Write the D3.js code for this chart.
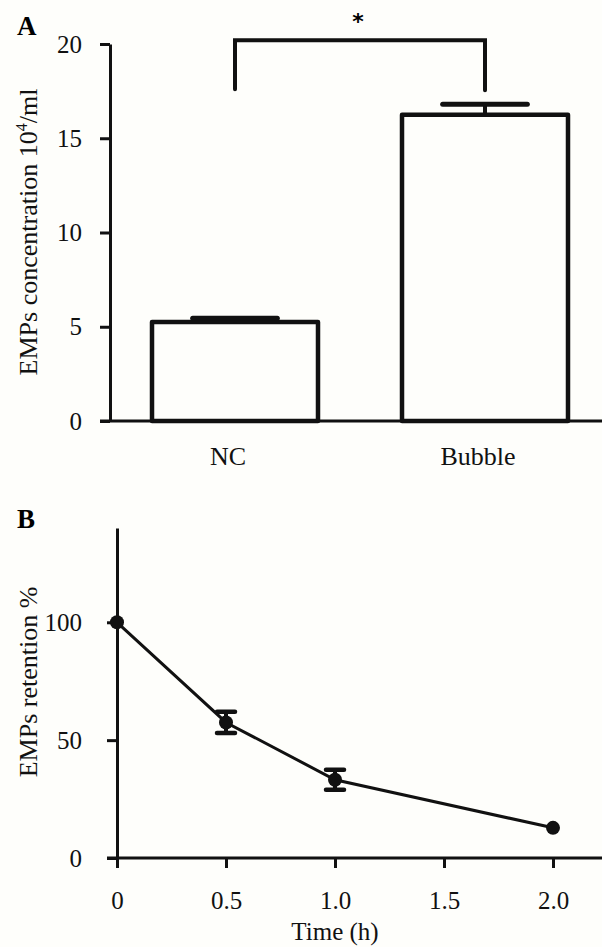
<!DOCTYPE html>
<html>
<head>
<meta charset="utf-8">
<script src="https://cdn.jsdelivr.net/npm/d3@7/dist/d3.min.js"></script>
<style>
    body { margin: 0; background: #fefefb; }
    svg { display: block; font-family: "Liberation Serif", "Times New Roman", serif; }
</style>
</head>
<body>
<div id="chart"></div>
<script>
// panel A data
let groups = ['NC', 'Bubble'];
let concMean = [5.25, 16.25];
let concErr = [0.2, 0.55];
let concTicks = [0, 5, 10, 15, 20];

// panel B data
let timeHours = [0, 0.5, 1.0, 2.0];
let retention = [100, 57.5, 33.2, 12.8];
let retentionErr = [0, 4.5, 4.2, 0];
let timeTicks = [0, 0.5, 1.0, 1.5, 2.0];
let timeTickLabels = ['0', '0.5', '1.0', '1.5', '2.0'];
let retentionTicks = [0, 50, 100];

let width = 602, height = 947;
let svg = d3.select('#chart').append('svg')
    .attr('width', width)
    .attr('height', height);

svg.append('rect').attr('width', width).attr('height', height).attr('fill', '#fefefb');

function styleAxis(g, fs) {
    g.selectAll('path, line').attr('stroke', '#111').attr('stroke-width', 3);
    g.selectAll('text')
        .attr('fill', '#111')
        .style('font-size', fs + 'px')
        .style('font-family', '"Liberation Serif", "Times New Roman", serif');
}

// ---------------- panel A ----------------
function drawBars() {
    let x = d3.scaleBand().domain(groups).range([110, 610])
        .paddingInner(0.336).paddingOuter(0.168);
    let y = d3.scaleLinear().domain([0, 20]).range([421, 44]);
    let bars = groups.map((g, i) => ({name: g, mean: concMean[i], err: concErr[i]}));

    svg.append('text').attr('x', 17).attr('y', 35)
        .attr('font-weight', 'bold').attr('font-size', 27).text('A');

    let yAxis = svg.append('g').attr('transform', 'translate(110,0)')
        .call(d3.axisLeft(y).tickValues(concTicks).tickSize(10).tickSizeOuter(0).tickPadding(18));
    styleAxis(yAxis, 25);

    // x axis labels
    let xAxis = svg.append('g').attr('transform', 'translate(0,421)')
        .call(d3.axisBottom(x).tickSize(0).tickPadding(26));
    xAxis.select('.domain').remove();
    styleAxis(xAxis, 26);
    xAxis.selectAll('text').attr('dx', -7);

    svg.selectAll('rect.bar').data(bars).enter().append('rect')
        .attr('class', 'bar')
        .attr('x', d => x(d.name))
        .attr('y', d => y(d.mean))
        .attr('width', x.bandwidth())
        .attr('height', d => y(0) - y(d.mean))
        .attr('fill', 'none')
        .attr('stroke', '#111')
        .attr('stroke-width', 4.5)
        .attr('stroke-linejoin', 'round');

    // error bars
    let capHalf = x.bandwidth() * 0.255;
    let eb = svg.selectAll('g.err').data(bars).enter().append('g').attr('class', 'err');
    eb.append('line')
        .attr('x1', d => x(d.name) + x.bandwidth() / 2)
        .attr('x2', d => x(d.name) + x.bandwidth() / 2)
        .attr('y1', d => y(d.mean)).attr('y2', d => y(d.mean + d.err))
        .attr('stroke', '#111').attr('stroke-width', 4);
    eb.append('line')
        .attr('x1', d => x(d.name) + x.bandwidth() / 2 - capHalf)
        .attr('x2', d => x(d.name) + x.bandwidth() / 2 + capHalf)
        .attr('y1', d => y(d.mean + d.err)).attr('y2', d => y(d.mean + d.err))
        .attr('stroke', '#111').attr('stroke-width', 5).attr('stroke-linecap', 'round');

    // x baseline
    svg.append('line').attr('x1', 100).attr('x2', width)
        .attr('y1', y(0)).attr('y2', y(0))
        .attr('stroke', '#111').attr('stroke-width', 3);

    // significance bracket
    let cx0 = x('NC') + x.bandwidth() / 2, cx1 = x('Bubble') + x.bandwidth() / 2;
    let top = y(20.2);
    svg.append('path')
        .attr('d', 'M' + cx0 + ',' + y(17.6) + 'V' + top + 'H' + cx1 + 'V' + y(17.55))
        .attr('fill', 'none').attr('stroke', '#111').attr('stroke-width', 4)
        .attr('stroke-linecap', 'round').attr('stroke-linejoin', 'miter');
    svg.append('text').attr('x', (cx0 + cx1) / 2 - 2).attr('y', 29)
        .attr('text-anchor', 'middle')
        .style('font-family', '"DejaVu Sans", sans-serif')
        .attr('font-size', 22).attr('font-weight', 'bold').text('*');

    // y label
    let lab = svg.append('text')
        .attr('transform', 'translate(37,232) rotate(-90)')
        .attr('text-anchor', 'middle').attr('font-size', 26).attr('fill', '#111');
    lab.append('tspan').text('EMPs concentration 10');
    lab.append('tspan').attr('font-size', 16).attr('dy', -10).text('4');
    lab.append('tspan').attr('dy', 10).text('/ml');
}

// ---------------- panel B ----------------
function drawLine() {
    let x = d3.scaleLinear().domain([0, 2]).range([117, 553]);
    let y = d3.scaleLinear().domain([0, 140]).range([858, 528]);
    let pts = timeHours.map((t, i) => ({t: t, v: retention[i], e: retentionErr[i]}));

    svg.append('text').attr('x', 17).attr('y', 528)
        .attr('font-weight', 'bold').attr('font-size', 27).text('B');

    let yAxis = svg.append('g').attr('transform', 'translate(117,0)')
        .call(d3.axisLeft(y).tickValues(retentionTicks).tickSize(10).tickSizeOuter(0).tickPadding(25));
    styleAxis(yAxis, 25);

    let xAxis = svg.append('g').attr('transform', 'translate(0,858)')
        .call(d3.axisBottom(x).tickValues(timeTicks)
            .tickFormat((d, i) => timeTickLabels[i]).tickSize(10).tickPadding(23));
    xAxis.select('.domain').remove();
    styleAxis(xAxis, 25);

    svg.append('line').attr('x1', 107).attr('x2', width)
        .attr('y1', y(0)).attr('y2', y(0))
        .attr('stroke', '#111').attr('stroke-width', 3);

    svg.append('path').datum(pts)
        .attr('d', d3.line().x(d => x(d.t)).y(d => y(d.v)))
        .attr('fill', 'none').attr('stroke', '#111').attr('stroke-width', 3);

    let eb = svg.selectAll('g.errB').data(pts.filter(d => d.e > 0)).enter().append('g').attr('class', 'errB');
    eb.append('line')
        .attr('x1', d => x(d.t)).attr('x2', d => x(d.t))
        .attr('y1', d => y(d.v - d.e)).attr('y2', d => y(d.v + d.e))
        .attr('stroke', '#111').attr('stroke-width', 4);
    eb.selectAll('line.cap').data(d => [[d.t, d.v - d.e], [d.t, d.v + d.e]]).enter().append('line')
        .attr('class', 'cap')
        .attr('x1', d => x(d[0]) - 9).attr('x2', d => x(d[0]) + 9)
        .attr('y1', d => y(d[1])).attr('y2', d => y(d[1]))
        .attr('stroke', '#111').attr('stroke-width', 4.5).attr('stroke-linecap', 'round');

    svg.selectAll('circle.pt').data(pts).enter().append('circle')
        .attr('class', 'pt')
        .attr('cx', d => x(d.t)).attr('cy', d => y(d.v)).attr('r', 7)
        .attr('fill', '#111');

    svg.append('text')
        .attr('x', x(1.0)).attr('y', 940)
        .attr('text-anchor', 'middle').attr('font-size', 25).attr('fill', '#111')
        .text('Time (h)');

    svg.append('text')
        .attr('transform', 'translate(37,682) rotate(-90)')
        .attr('text-anchor', 'middle').attr('font-size', 26).attr('fill', '#111')
        .text('EMPs retention %');
}

drawBars();
drawLine();
</script>
</body>
</html>
